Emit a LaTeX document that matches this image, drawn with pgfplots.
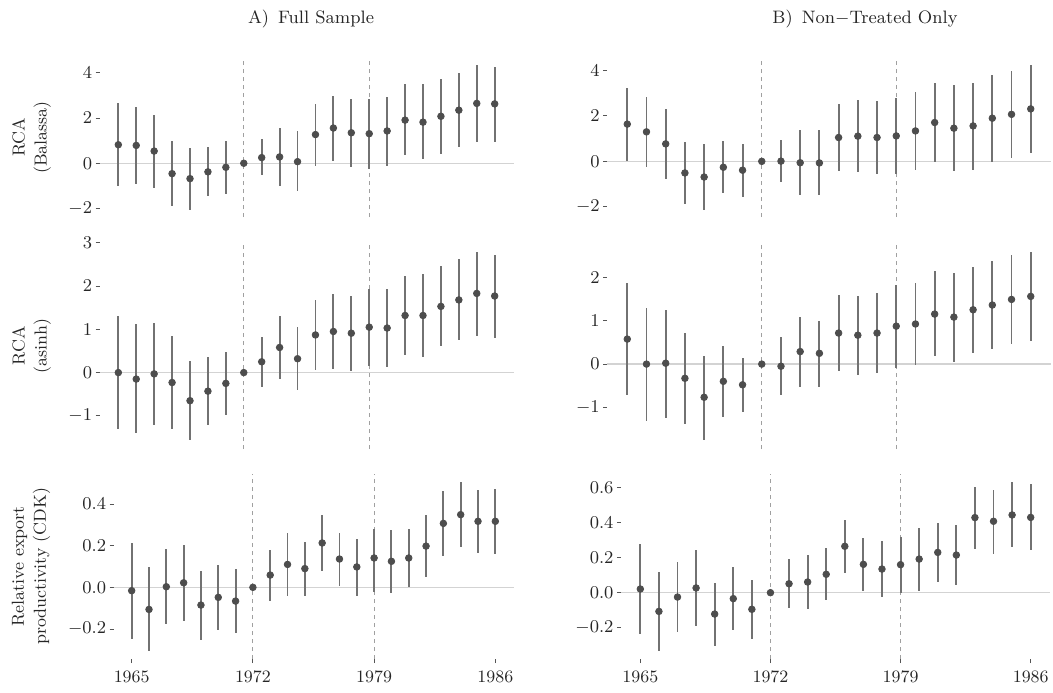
\documentclass[border=0pt]{standalone}
\usepackage{pgfplots}
\usepackage{pgfplotstable}
\pgfplotsset{compat=1.18}
\definecolor{ptcol}{HTML}{4D4D4D}
\definecolor{barcol}{HTML}{727272}
\definecolor{zerocol}{HTML}{D3D3D3}
\definecolor{dashcol}{HTML}{A0A0A0}
\definecolor{tickcol}{HTML}{555555}
\definecolor{txtcol}{HTML}{262626}

\pgfplotstableread{
year y lo hi
1965 0.82 -1.00 2.65
1966 0.79 -0.91 2.50
1967 0.54 -1.10 2.15
1968 -0.46 -1.88 1.00
1969 -0.68 -2.06 0.69
1970 -0.38 -1.47 0.71
1971 -0.18 -1.35 0.99
1972 0 0 0
1973 0.25 -0.54 1.06
1974 0.28 -1.00 1.56
1975 0.07 -1.25 1.41
1976 1.27 -0.12 2.62
1977 1.56 0.09 3.00
1978 1.35 -0.15 2.83
1979 1.31 -0.25 2.83
1980 1.43 -0.13 2.94
1981 1.91 0.35 3.49
1982 1.82 0.18 3.49
1983 2.08 0.41 3.74
1984 2.35 0.72 3.99
1985 2.65 0.94 4.34
1986 2.63 0.94 4.28
}\tl
\pgfplotstableread{
year y lo hi
1965 1.64 0.03 3.23
1966 1.30 -0.26 2.83
1967 0.77 -0.79 2.32
1968 -0.51 -1.87 0.86
1969 -0.69 -2.13 0.76
1970 -0.26 -1.40 0.88
1971 -0.39 -1.58 0.77
1972 0 0 0
1973 0.01 -0.91 0.92
1974 -0.06 -1.50 1.39
1975 -0.07 -1.50 1.39
1976 1.05 -0.41 2.53
1977 1.11 -0.48 2.70
1978 1.05 -0.57 2.66
1979 1.12 -0.55 2.79
1980 1.34 -0.38 3.05
1981 1.71 -0.04 3.45
1982 1.46 -0.44 3.34
1983 1.56 -0.36 3.46
1984 1.90 -0.01 3.81
1985 2.07 0.16 3.99
1986 2.31 0.38 4.23
}\tr
\pgfplotstableread{
year y lo hi
1965 0 -1.31 1.31
1966 -0.15 -1.40 1.12
1967 -0.03 -1.22 1.15
1968 -0.23 -1.30 0.85
1969 -0.65 -1.55 0.27
1970 -0.43 -1.21 0.35
1971 -0.25 -0.99 0.48
1972 0 0 0
1973 0.25 -0.34 0.83
1974 0.58 -0.15 1.31
1975 0.32 -0.41 1.05
1976 0.87 0.05 1.68
1977 0.95 0.08 1.81
1978 0.91 0.03 1.78
1979 1.05 0.15 1.93
1980 1.03 0.12 1.93
1981 1.32 0.40 2.24
1982 1.32 0.36 2.27
1983 1.53 0.61 2.46
1984 1.68 0.75 2.63
1985 1.83 0.85 2.79
1986 1.77 0.81 2.72
}\ml
\pgfplotstableread{
year y lo hi
1965 0.58 -0.71 1.89
1966 0 -1.31 1.29
1967 0.02 -1.25 1.26
1968 -0.33 -1.40 0.73
1969 -0.77 -1.75 0.18
1970 -0.40 -1.23 0.42
1971 -0.48 -1.12 0.15
1972 0 0 0
1973 -0.05 -0.72 0.62
1974 0.29 -0.52 1.10
1975 0.25 -0.53 1.01
1976 0.72 -0.15 1.60
1977 0.67 -0.25 1.58
1978 0.72 -0.21 1.65
1979 0.88 -0.09 1.84
1980 0.93 -0.02 1.88
1981 1.16 0.18 2.15
1982 1.09 0.06 2.12
1983 1.26 0.26 2.26
1984 1.37 0.35 2.40
1985 1.50 0.47 2.54
1986 1.57 0.53 2.60
}\mr
\pgfplotstableread{
year y lo hi
1965 -0.016 -0.248 0.214
1966 -0.106 -0.304 0.096
1967 0.003 -0.178 0.182
1968 0.022 -0.160 0.203
1969 -0.085 -0.253 0.080
1970 -0.048 -0.205 0.107
1971 -0.066 -0.219 0.086
1972 0 0 0
1973 0.059 -0.064 0.179
1974 0.110 -0.040 0.259
1975 0.090 -0.040 0.218
1976 0.213 0.078 0.347
1977 0.136 0.008 0.262
1978 0.098 -0.040 0.234
1979 0.141 -0.022 0.280
1980 0.125 -0.026 0.277
1981 0.141 0.003 0.280
1982 0.198 0.050 0.346
1983 0.307 0.150 0.462
1984 0.349 0.195 0.504
1985 0.317 0.165 0.467
1986 0.317 0.162 0.472
}\bl
\pgfplotstableread{
year y lo hi
1965 0.021 -0.236 0.280
1966 -0.107 -0.331 0.118
1967 -0.025 -0.225 0.177
1968 0.027 -0.190 0.246
1969 -0.122 -0.303 0.057
1970 -0.034 -0.215 0.149
1971 -0.095 -0.265 0.074
1972 0 0 0
1973 0.051 -0.090 0.190
1974 0.061 -0.093 0.215
1975 0.105 -0.044 0.253
1976 0.265 0.112 0.417
1977 0.162 0.010 0.312
1978 0.135 -0.025 0.295
1979 0.160 -0.004 0.320
1980 0.192 0.010 0.371
1981 0.230 0.061 0.398
1982 0.215 0.046 0.385
1983 0.429 0.251 0.604
1984 0.408 0.223 0.589
1985 0.444 0.261 0.630
1986 0.430 0.242 0.621
}\br

\pgfplotsset{
  panel/.style={
    scale only axis, anchor=north west,
    xmin=1963.95, xmax=1987.05,
    axis line style={draw=none},
    tick pos=left, tick align=outside,
    major tick length=2pt,
    tick style={color=tickcol, line width=0.5pt},
    every tick label/.append style={font=\fontsize{8.7}{10}\selectfont, text=txtcol},
    yticklabel style={inner sep=1.5pt},
    xticklabel style={inner sep=3.5pt},
    clip=false,
  },
  notx/.style={xtick=\empty},
  withx/.style={xtick={1965,1972,1979,1986}, xticklabels={1965,1972,1979,1986}},
  dec/.style={yticklabel style={/pgf/number format/.cd, fixed, fixed zerofill, precision=1}},
}
\newcommand{\decor}{%
  \draw[zerocol, line width=0.6pt] ({rel axis cs:0,0}|-{axis cs:1972,0}) -- ({rel axis cs:1,0}|-{axis cs:1972,0});
  \draw[dashcol, line width=0.5pt, dash pattern=on 2pt off 2pt] ({axis cs:1972,0}|-{rel axis cs:0,0}) -- ({axis cs:1972,0}|-{rel axis cs:0,1});
  \draw[dashcol, line width=0.5pt, dash pattern=on 2pt off 2pt] ({axis cs:1979,0}|-{rel axis cs:0,0}) -- ({axis cs:1979,0}|-{rel axis cs:0,1});
}
\newcommand{\series}[1]{%
  \addplot[only marks, mark=*, mark size=1.65pt, color=ptcol,
    error bars/.cd, y dir=both, y explicit, error mark=none,
    error bar style={line width=0.95pt, color=barcol}]
    table[x=year, y=y, y error plus expr=\thisrow{hi}-\thisrow{y}, y error minus expr=\thisrow{y}-\thisrow{lo}] {#1};
}

\begin{document}
\begin{tikzpicture}
\useasboundingbox (0,0) rectangle (526.5pt,-346pt);
\tikzset{lab/.style={font=\fontsize{8.7}{11}\selectfont, text=txtcol, align=center, rotate=90}}
\node[font=\fontsize{9}{10}\selectfont, text=txtcol, anchor=base] at (155.5pt,-11.5pt) {A)\enspace Full Sample};
\node[font=\fontsize{9}{10}\selectfont, text=txtcol, anchor=base] at (432.5pt,-11.5pt) {B)\enspace Non$-$Treated Only};
\node[lab] at (15.8pt,-68.75pt) {RCA\\(Balassa)};
\node[lab] at (15.8pt,-172.9pt) {RCA\\(asinh)};
\node[lab] at (15.5pt,-283.2pt) {Relative export\\productivity (CDK)};

% top left
\begin{axis}[panel, notx, at={(49.75pt,-29pt)}, width=207pt, height=79.5pt,
  ymin=-2.38, ymax=4.66, ytick={-2,0,2,4}]
\decor
\series{\tl}
\end{axis}
% top right
\begin{axis}[panel, notx, at={(303.55pt,-29pt)}, width=221.9pt, height=79.5pt,
  ymin=-2.45, ymax=4.55, ytick={-2,0,2,4}]
\decor
\series{\tr}
\end{axis}
% middle left
\begin{axis}[panel, notx, at={(49.75pt,-121.25pt)}, width=207pt, height=103.25pt,
  ymin=-1.767, ymax=3.007, ytick={-1,0,1,2,3}]
\decor
\series{\ml}
\end{axis}
% middle right
\begin{axis}[panel, notx, at={(303.55pt,-121.25pt)}, width=221.9pt, height=103.25pt,
  ymin=-1.97, ymax=2.82, ytick={-1,0,1,2}]
\decor
\series{\mr}
\end{axis}
% bottom left
\begin{axis}[panel, withx, dec, at={(56.75pt,-237pt)}, width=200pt, height=92.5pt,
  ymin=-0.344, ymax=0.544, ytick={-0.2,0,0.2,0.4}]
\decor
\series{\bl}
\end{axis}
% bottom right
\begin{axis}[panel, withx, dec, at={(310.4pt,-237pt)}, width=214.7pt, height=92.5pt,
  ymin=-0.379, ymax=0.678, ytick={-0.2,0,0.2,0.4,0.6}]
\decor
\series{\br}
\end{axis}
\end{tikzpicture}
\end{document}
